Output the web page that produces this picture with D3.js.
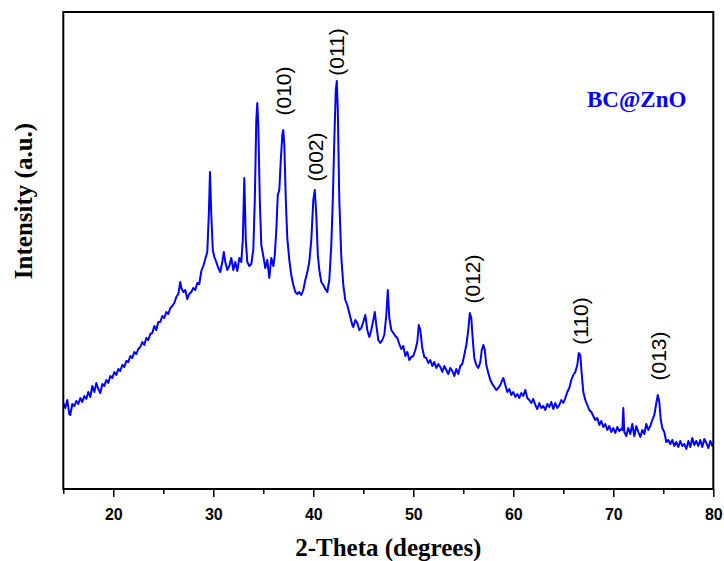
<!DOCTYPE html>
<html>
<head>
<meta charset="utf-8">
<script src="https://cdn.jsdelivr.net/npm/d3@7"></script>
<style>
  html, body { margin: 0; padding: 0; background: #fff; }
  svg { display: block; }
</style>
</head>
<body>
<svg id="chart" width="724" height="561"></svg>
<script>
// ---- data ----
const twoTheta = [
  15.0,15.2,15.4,15.6,15.7,15.9,16.1,16.3,16.5,16.7,16.9,17.1,17.3,17.5,17.7,17.9,18.1,18.3,18.5,18.7,
  18.9,19.1,19.3,19.5,19.7,19.9,20.1,20.3,20.5,20.7,20.9,21.1,21.3,21.5,21.7,21.9,22.1,22.3,22.5,22.7,
  22.9,23.1,23.3,23.5,23.7,23.9,24.1,24.3,24.5,24.7,24.9,25.1,25.3,25.5,25.7,25.9,26.1,26.3,26.5,26.7,
  26.8,27.0,27.2,27.4,27.6,27.8,28.0,28.2,28.4,28.6,28.8,29.0,29.2,29.4,29.55,29.67,29.8,29.95,30.1,30.3,
  30.5,30.7,30.9,31.05,31.2,31.4,31.6,31.8,32.0,32.2,32.4,32.6,32.8,32.95,33.1,33.25,33.4,33.6,33.8,34.0,
  34.15,34.3,34.4,34.5,34.65,34.8,35.0,35.2,35.4,35.6,35.8,36.0,36.15,36.3,36.45,36.6,36.75,36.9,37.0,37.1,
  37.25,37.4,37.6,37.8,38.0,38.2,38.4,38.6,38.8,39.0,39.2,39.4,39.6,39.8,40.0,40.15,40.3,40.45,40.6,40.8,
  41.0,41.2,41.4,41.6,41.8,41.95,42.1,42.25,42.35,42.45,42.6,42.8,43.0,43.2,43.4,43.7,43.9,44.0,44.2,44.4,
  44.6,44.8,45.0,45.2,45.4,45.6,45.8,46.0,46.15,46.3,46.5,46.7,46.9,47.1,47.3,47.45,47.6,47.8,48.0,48.2,
  48.4,48.6,48.8,49.0,49.2,49.4,49.6,49.8,50.0,50.2,50.4,50.55,50.7,50.9,51.1,51.3,51.5,51.7,51.9,52.1,
  52.3,52.5,52.7,52.9,53.1,53.3,53.5,53.7,53.9,54.1,54.3,54.5,54.7,54.9,55.1,55.3,55.5,55.65,55.8,55.95,
  56.1,56.3,56.5,56.7,56.85,57.0,57.15,57.3,57.5,57.7,57.9,58.1,58.3,58.5,58.7,58.9,59.0,59.2,59.4,59.6,
  59.8,60.0,60.2,60.4,60.6,60.8,61.0,61.2,61.4,61.6,61.8,62.0,62.2,62.4,62.6,62.8,63.0,63.2,63.4,63.6,
  63.8,64.0,64.2,64.4,64.6,64.8,65.0,65.2,65.4,65.6,65.8,66.0,66.2,66.4,66.55,66.7,66.85,67.0,67.2,67.4,
  67.6,67.8,68.0,68.2,68.4,68.6,68.8,69.0,69.2,69.4,69.6,69.8,70.0,70.2,70.4,70.6,70.8,70.9,71.0,71.1,
  71.3,71.5,71.7,71.9,72.1,72.3,72.5,72.7,72.9,73.1,73.3,73.5,73.7,73.9,74.1,74.3,74.45,74.6,74.75,74.9,
  75.1,75.3,75.5,75.7,75.9,76.1,76.3,76.5,76.7,76.9,77.1,77.3,77.5,77.7,77.9,78.1,78.3,78.5,78.7,78.9,
  79.1,79.3,79.5,79.7,79.9,80.0
];
const intensity = [
  86,81,89,75,74,85,83,88,85,91,87,93,90,97,92,103,97,106,100,96,
  105,103,109,106,113,111,117,114,120,118,124,122,128,127,133,131,137,135,140,142,
  147,144,151,149,155,156,163,159,167,167,173,171,177,175,181,183,186,192,195,207,
  201,197,199,190,195,197,201,199,206,205,218,223,230,237,274,317,274,239,232,227,
  221,217,227,237,227,219,223,231,219,227,218,231,227,249,311,249,227,223,225,239,
  289,369,386,364,289,244,233,221,229,211,231,223,234,259,294,299,329,354,359,344,
  289,251,229,214,204,197,195,197,194,199,209,217,227,249,289,299,274,234,219,207,
  204,200,197,209,244,289,349,399,408,379,289,232,204,189,184,172,164,162,169,166,
  159,161,167,174,159,152,159,169,177,164,149,146,149,154,174,199,171,159,156,153,
  151,145,140,143,133,137,129,132,133,139,147,164,159,141,132,131,126,129,123,127,
  121,125,122,117,123,119,115,121,118,113,120,115,123,125,134,144,159,176,171,149,
  131,124,121,127,139,144,139,124,116,109,105,102,99,101,104,109,111,104,97,100,
  94,97,92,95,91,96,93,99,91,89,86,90,84,80,86,81,83,79,85,82,
  87,80,86,81,84,89,86,91,97,101,109,114,117,124,136,134,114,97,89,84,
  79,77,73,69,71,64,68,62,65,59,63,57,61,56,62,58,60,59,81,57,
  53,61,55,65,53,63,57,52,59,55,65,59,63,69,74,86,94,87,69,61,
  57,47,49,45,49,43,47,42,48,43,45,40,48,42,51,44,48,43,49,42,
  50,46,41,48,43,46
];
const xTicks = [20, 30, 40, 50, 60, 70, 80];
const xMinorTicks = [15, 25, 35, 45, 55, 65, 75];
const peakLabels = ["(010)", "(002)", "(011)", "(012)", "(110)", "(013)"];
const peakTheta = [37.0, 40.2, 42.3, 55.9, 66.7, 74.5];
const peakLabelIntensity = [398, 332, 437, 210, 168, 133];
const sampleName = "BC@ZnO";
const xTitle = "2-Theta (degrees)";
const yTitle = "Intensity (a.u.)";

// ---- layout ----
const W = 724, H = 561;
const m = { left: 63.3, right: 10.7, top: 12, bottom: 72 };
const svg = d3.select("#chart");

const x = d3.scaleLinear().domain([15, 80]).range([m.left, W - m.right]);
const y = d3.scaleLinear().domain([0, 477]).range([H - m.bottom, m.top]);

const pts = twoTheta.map((t, i) => [t, intensity[i]]);

// curve
svg.append("path")
  .datum(pts)
  .attr("fill", "none")
  .attr("stroke", "#0000ff")
  .attr("stroke-width", 2)
  .attr("stroke-linejoin", "round")
  .attr("d", d3.line().x(d => x(d[0])).y(d => y(d[1])));

// frame
svg.append("rect")
  .attr("x", x(15)).attr("y", y(477))
  .attr("width", x(80) - x(15)).attr("height", y(0) - y(477))
  .attr("fill", "none").attr("stroke", "#000").attr("stroke-width", 2);

// x axis
const xAxis = svg.append("g")
  .attr("transform", `translate(0,${y(0)})`)
  .call(d3.axisBottom(x).tickValues(xTicks).tickSize(8).tickPadding(12).tickFormat(d3.format("d")));
xAxis.select(".domain").remove();
xAxis.selectAll("line").attr("stroke", "#000").attr("stroke-width", 1.5);
xAxis.selectAll("text")
  .attr("font-family", "'Liberation Sans', Arial, sans-serif")
  .attr("font-weight", "bold").attr("font-size", 16).attr("fill", "#000");

const xMinor = svg.append("g")
  .attr("transform", `translate(0,${y(0)})`)
  .call(d3.axisBottom(x).tickValues(xMinorTicks).tickSize(5).tickFormat(""));
xMinor.select(".domain").remove();
xMinor.selectAll("line").attr("stroke", "#000").attr("stroke-width", 1.5);

// axis titles
svg.append("text")
  .attr("x", (x(15) + x(80)) / 2 + 0).attr("y", 556)
  .attr("text-anchor", "middle")
  .attr("font-family", "'Liberation Serif', 'Times New Roman', serif")
  .attr("font-weight", "bold").attr("font-size", 25)
  .text(xTitle);

svg.append("text")
  .attr("transform", "translate(32,201) rotate(-90)")
  .attr("text-anchor", "middle")
  .attr("font-family", "'Liberation Serif', 'Times New Roman', serif")
  .attr("font-weight", "bold").attr("font-size", 25)
  .text(yTitle);

// sample name
svg.append("text")
  .attr("x", 587).attr("y", 107)
  .attr("font-family", "'Liberation Serif', 'Times New Roman', serif")
  .attr("font-weight", "bold").attr("font-size", 23)
  .attr("fill", "#0000ff")
  .text(sampleName);

// peak labels
peakLabels.forEach((lab, i) => {
  svg.append("text")
    .attr("transform", `translate(${x(peakTheta[i])},${y(peakLabelIntensity[i])}) rotate(-90)`)
    .attr("text-anchor", "middle")
    .attr("dy", "0.35em")
    .attr("font-family", "'Liberation Sans', Arial, sans-serif")
    .attr("font-size", 21)
    .attr("fill", "#000")
    .text(lab);
});
</script>
</body>
</html>
